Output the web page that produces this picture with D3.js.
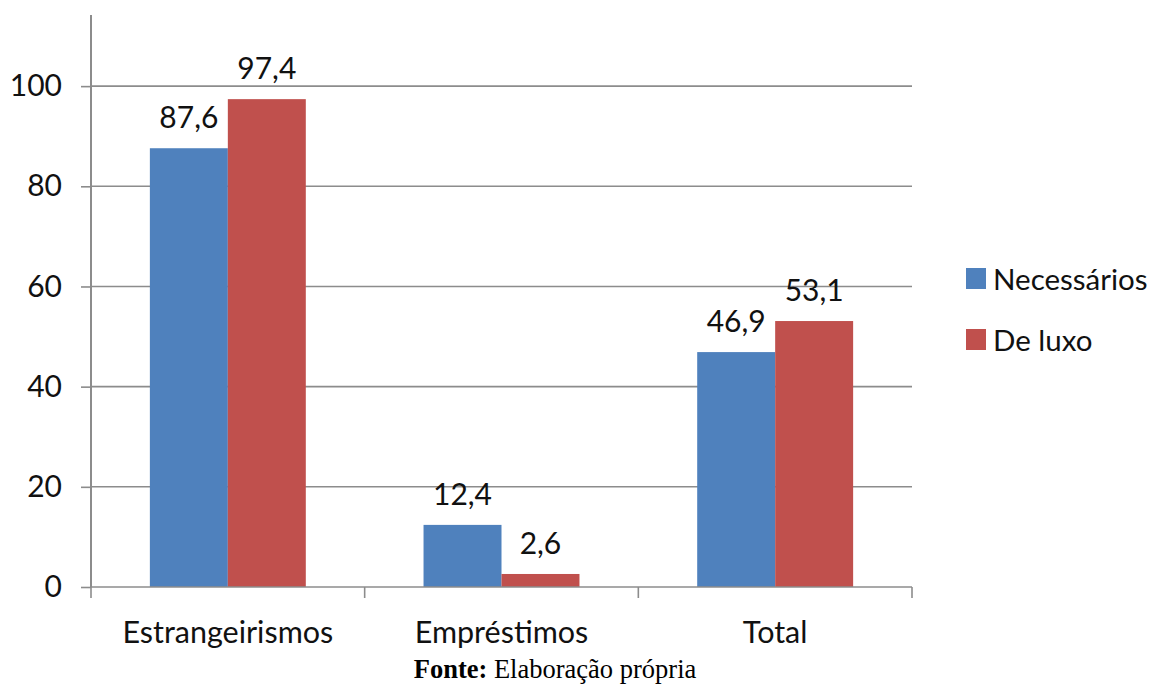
<!DOCTYPE html>
<html>
<head>
<meta charset="utf-8">
<script src="https://cdn.jsdelivr.net/npm/d3@7"></script>
<style>
  html, body { margin: 0; padding: 0; background: #fff; }
  svg { display: block; }
</style>
</head>
<body>
<svg id="chart" width="1151" height="684"></svg>
<script>
// Chart data
const categories = ["Estrangeirismos", "Empréstimos", "Total"];
const seriesNames = ["Necessários", "De luxo"];
const necessarios = [87.6, 12.4, 46.9];
const deLuxo = [97.4, 2.6, 53.1];
const valueLabels = [["87,6", "12,4", "46,9"], ["97,4", "2,6", "53,1"]];
const yTicks = [0, 20, 40, 60, 80, 100];
const colors = ["#4F81BD", "#C0504D"];
const caption = { bold: "Fonte:", rest: " Elaboração própria" };

const series = [necessarios, deLuxo];
const font = "Lato, 'Open Sans', sans-serif";

const svg = d3.select("#chart");
const plot = { left: 91, right: 912, top: 15, bottom: 587 };

const x = d3.scaleBand().domain(categories).range([plot.left, plot.right]).paddingInner(0).paddingOuter(0);
const inner = d3.scaleBand().domain(d3.range(seriesNames.length)).range([0, x.bandwidth()]).paddingInner(0).paddingOuter(0.755);
const y = d3.scaleLinear().domain([0, 114.2]).range([plot.bottom, plot.top]);

// Horizontal gridlines
svg.append("g")
  .selectAll("line")
  .data(yTicks.filter(d => d > 0))
  .join("line")
  .attr("x1", plot.left).attr("x2", plot.right)
  .attr("y1", d => y(d)).attr("y2", d => y(d))
  .attr("stroke", "#8c8c8c").attr("stroke-width", 1.6);

// Y axis
const yAxis = svg.append("g")
  .attr("transform", `translate(${plot.left},0)`)
  .call(d3.axisLeft(y).tickValues(yTicks).tickSize(10).tickPadding(19).tickFormat(d3.format("d")));
yAxis.select(".domain").remove();
yAxis.append("line").attr("x1", 0).attr("x2", 0).attr("y1", plot.top).attr("y2", plot.bottom)
  .attr("stroke", "#8c8c8c").attr("stroke-width", 2);
yAxis.selectAll(".tick line").attr("stroke", "#8c8c8c").attr("stroke-width", 1.6);
yAxis.selectAll(".tick text").attr("font-family", font).attr("font-size", 30).attr("fill", "#111");

// Bars
series.forEach((vals, si) => {
  svg.append("g")
    .selectAll("rect")
    .data(vals)
    .join("rect")
    .attr("x", (d, i) => x(categories[i]) + inner(si))
    .attr("width", inner.bandwidth())
    .attr("y", d => y(d))
    .attr("height", d => y(0) - y(d))
    .attr("fill", colors[si]);

  svg.append("g")
    .selectAll("text")
    .data(vals)
    .join("text")
    .attr("x", (d, i) => x(categories[i]) + inner(si) + inner.bandwidth() / 2)
    .attr("y", d => y(d) - 20)
    .attr("text-anchor", "middle")
    .attr("font-family", font).attr("font-size", 30).attr("fill", "#111")
    .text((d, i) => valueLabels[si][i]);
});

// X axis
const xAxis = svg.append("g")
  .attr("transform", `translate(0,${plot.bottom})`);
xAxis.append("line").attr("x1", plot.left).attr("x2", plot.right).attr("y1", 0).attr("y2", 0)
  .attr("stroke", "#8c8c8c").attr("stroke-width", 1.6);
const bounds = categories.map(c => x(c)).concat([plot.right]);
xAxis.selectAll("line.cat").data(bounds).join("line").attr("class", "cat")
  .attr("x1", d => d).attr("x2", d => d).attr("y1", 0).attr("y2", 11)
  .attr("stroke", "#8c8c8c").attr("stroke-width", 1.6);
xAxis.selectAll("text").data(categories).join("text")
  .attr("x", d => x(d) + x.bandwidth() / 2)
  .attr("y", 56)
  .attr("text-anchor", "middle")
  .attr("font-family", font).attr("font-size", 30.5).attr("fill", "#111")
  .text(d => d);

// Legend
const legend = svg.append("g").attr("transform", "translate(966,268)");
seriesNames.forEach((name, i) => {
  const g = legend.append("g").attr("transform", `translate(0,${i * 61})`);
  g.append("rect").attr("width", 20).attr("height", 21).attr("fill", colors[i]);
  g.append("text").attr("x", 27).attr("y", 22)
    .attr("font-family", font).attr("font-size", 29.5).attr("fill", "#111")
    .text(name);
});

// Source caption
const cap = svg.append("text")
  .attr("x", 555).attr("y", 678)
  .attr("text-anchor", "middle")
  .attr("font-family", "'Liberation Serif', 'Times New Roman', serif")
  .attr("font-size", 26.5).attr("fill", "#000");
cap.append("tspan").attr("font-weight", "bold").text(caption.bold);
cap.append("tspan").text(caption.rest);
</script>
</body>
</html>
